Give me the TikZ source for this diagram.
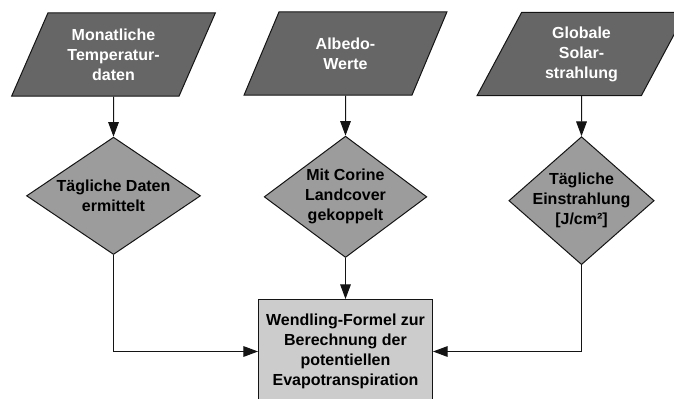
\documentclass[tikz,border=0pt]{standalone}
\usepackage{fontspec}
\setmainfont{Liberation Sans}
\usepackage{xcolor}
\usepackage{tikz}
\usetikzlibrary{shapes.geometric, arrows.meta, positioning}
\definecolor{mydark}{RGB}{20,20,20}
\definecolor{inputgray}{RGB}{102,102,102}
\definecolor{stepgray}{RGB}{156,156,156}
\definecolor{resultgray}{RGB}{204,204,204}
\tikzset{
  line/.style={draw=mydark, line width=0.75pt},
  arrow/.style={draw=mydark, line width=0.75pt, -{Triangle[length=11pt, width=8pt]}},
  inblock/.style={trapezium, trapezium left angle=63.7, trapezium right angle=116.3, trapezium stretches=true, draw=mydark, line width=0.75pt, fill=inputgray, text=white, align=center, font=\fontsize{12}{15}\selectfont\bfseries, minimum height=62.5pt, minimum width=153pt, inner sep=0pt}
}

\begin{document}
\begin{tikzpicture}[x=0.75pt, y=-0.75pt, dblock/.style={diamond, draw=mydark, line width=0.75pt, fill=stepgray, align=center, font=\fontsize{12}{15}\selectfont\bfseries, inner sep=-10pt}, rblock/.style={rectangle, draw=mydark, line width=0.75pt, fill=resultgray, align=center, font=\fontsize{12}{15}\selectfont\bfseries, minimum width=130.5pt, minimum height=78pt, inner sep=0pt}]
  \useasboundingbox (0,0) rectangle (674,399);
  \node [inblock] (temp) at (113.5,54.5) {Monatliche\\Temperatur-\\daten};
  \node [inblock] (albedo) at (345.5,53.5) {Albedo-\\Werte};
  \node [inblock, minimum width=158pt] (solar) at (581.5,54) {Globale\\Solar-\\strahlung};
  \node [dblock, below=30pt of temp, minimum width=130.5pt, minimum height=88pt] (daily) {Tägliche Daten\\ermittelt};
  \node [dblock, below=30pt of albedo, minimum width=122pt, minimum height=91pt] (corine) {Mit Corine\\Landcover\\gekoppelt};
  \node [dblock, below=30pt of solar, minimum width=109pt, minimum height=96pt] (einstr) {Tägliche\\Einstrahlung\\{[J/cm²]}};
  \node [rblock, below=30.75pt of corine] (wendling) {Wendling-Formel zur\\Berechnung der\\potentiellen\\Evapotranspiration};

  \draw [arrow] (temp) -- (daily);
  \draw [arrow] (albedo) -- (corine);
  \draw [arrow] (solar) -- (einstr);
  \draw [arrow] (corine) -- (wendling);
  \draw [arrow] (daily.south) |- (wendling.west);
  \draw [arrow] (einstr.south) |- (wendling.east);
\end{tikzpicture}
\end{document}
